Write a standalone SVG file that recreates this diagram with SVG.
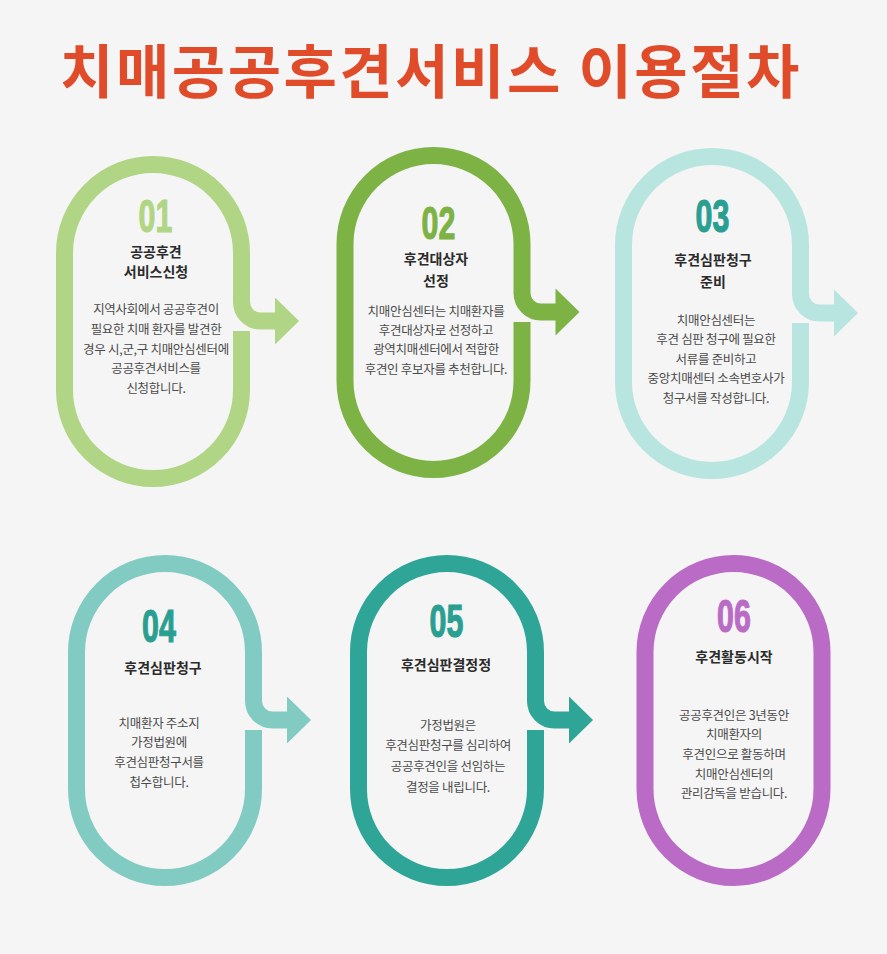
<svg xmlns="http://www.w3.org/2000/svg" width="887" height="954" viewBox="0 0 887 954">
<style>
.ring{fill:none;stroke-width:17;stroke-linecap:butt}
.title{font-family:"Noto Sans CJK KR","Noto Sans",sans-serif;font-weight:700;font-size:58px;letter-spacing:2.5px;fill:#e04c2a}
.num{font-family:"Liberation Sans",Arial,sans-serif;font-weight:700;font-size:46px;text-anchor:middle;stroke-width:1.2px}
.head{font-family:"Noto Sans CJK KR","Noto Sans",sans-serif;font-weight:700;font-size:14px;letter-spacing:0px;fill:#2b2b2b;text-anchor:middle}
.body{font-family:"Noto Sans CJK KR","Noto Sans",sans-serif;font-weight:400;font-size:12.5px;letter-spacing:-0.3px;fill:#4a4a4a;text-anchor:middle}
.c1{stroke:#b0d584}.f1{fill:#b0d584}
.c2{stroke:#7db244}.f2{fill:#7db244}
.c3{stroke:#b8e5df}.f3{fill:#b8e5df}
.c4{stroke:#82cbc3}.f4{fill:#82cbc3}
.c5{stroke:#2ea597}.f5{fill:#2ea597}
.c6{stroke:#ba6bc6}.f6{fill:#ba6bc6}
.ft{fill:#2a9f91;stroke:#2a9f91}
.n1{fill:#b0d584;stroke:#b0d584}
.n2{fill:#7db244;stroke:#7db244}
.n6{fill:#ba6bc6;stroke:#ba6bc6}
</style>
<rect x="0" y="0" width="887" height="954" fill="#f5f5f5"/>
<text class="title" x="431" y="93" text-anchor="middle">치매공공후견서비스 이용절차</text>

<g id="step1">
<path class="ring c1" d="M 241.5 331 L 241.5 390 A 88.5 88.5 0 0 1 64.5 390 L 64.5 253 A 88.5 88.5 0 0 1 241.5 253 L 241.5 302"/>
<text class="num n1" transform="translate(155.5,232) scale(0.66,1)">01</text>
<text class="head" x="156" y="256.5">공공후견</text>
<text class="head" x="156" y="276.5">서비스신청</text>
<text class="body" x="156" y="314.3">지역사회에서 공공후견이</text>
<text class="body" x="156" y="334">필요한 치매 환자를 발견한</text>
<text class="body" x="156" y="353.7">경우 시,군,구 치매안심센터에</text>
<text class="body" x="156" y="373.4">공공후견서비스를</text>
<text class="body" x="156" y="393.1">신청합니다.</text>
</g>

<g id="step2">
<path class="ring c2" d="M 522 322 L 522 381 A 88.5 88.5 0 0 1 345 381 L 345 244 A 88.5 88.5 0 0 1 522 244 L 522 293"/>
<text class="num n2" transform="translate(438.5,239) scale(0.66,1)">02</text>
<text class="head" x="436" y="264">후견대상자</text>
<text class="head" x="436" y="286">선정</text>
<text class="body" x="436" y="315.5">치매안심센터는 치매환자를</text>
<text class="body" x="436" y="334.5">후견대상자로 선정하고</text>
<text class="body" x="436" y="354">광역치매센터에서 적합한</text>
<text class="body" x="436" y="373.5">후견인 후보자를 추천합니다.</text>
</g>

<g id="step3">
<path class="ring c3" d="M 800.5 323 L 800.5 382 A 88.5 88.5 0 0 1 623.5 382 L 623.5 245 A 88.5 88.5 0 0 1 800.5 245 L 800.5 294"/>
<text class="num ft" transform="translate(712.5,232) scale(0.66,1)">03</text>
<text class="head" x="713" y="265">후견심판청구</text>
<text class="head" x="713" y="287">준비</text>
<text class="body" x="716" y="324.5">치매안심센터는</text>
<text class="body" x="716" y="344">후견 심판 청구에 필요한</text>
<text class="body" x="716" y="363.5">서류를 준비하고</text>
<text class="body" x="716" y="383">중앙치매센터 소속변호사가</text>
<text class="body" x="716" y="402.5">청구서를 작성합니다.</text>
</g>

<g id="step4">
<path class="ring c4" d="M 253.5 730 L 253.5 789 A 88.5 88.5 0 0 1 76.5 789 L 76.5 652 A 88.5 88.5 0 0 1 253.5 652 L 253.5 701"/>
<text class="num ft" transform="translate(159,642) scale(0.66,1)">04</text>
<text class="head" x="163" y="673">후견심판청구</text>
<text class="body" x="159" y="727.5">치매환자 주소지</text>
<text class="body" x="159" y="747">가정법원에</text>
<text class="body" x="159" y="767">후견심판청구서를</text>
<text class="body" x="159" y="787">첩수합니다.</text>
</g>

<g id="step5">
<path class="ring c5" d="M 535.5 730 L 535.5 789 A 88.5 88.5 0 0 1 358.5 789 L 358.5 652 A 88.5 88.5 0 0 1 535.5 652 L 535.5 701"/>
<text class="num ft" transform="translate(446.5,637) scale(0.66,1)">05</text>
<text class="head" x="446" y="670">후견심판결정정</text>
<text class="body" x="448" y="729.5">가정법원은</text>
<text class="body" x="448" y="750">후견심판청구를 심리하여</text>
<text class="body" x="448" y="771">공공후견인을 선임하는</text>
<text class="body" x="448" y="792">결정을 내립니다.</text>
</g>

<g id="step6">
<rect class="ring c6" x="645" y="563.5" width="177" height="314" rx="88.5" ry="88.5"/>
<text class="num n6" transform="translate(734,632) scale(0.66,1)">06</text>
<text class="head" x="734" y="662">후견활동시작</text>
<text class="body" x="734" y="719.5">공공후견인은 3년동안</text>
<text class="body" x="734" y="739">치매환자의</text>
<text class="body" x="734" y="758.5">후견인으로 활동하며</text>
<text class="body" x="734" y="778.5">치매안심센터의</text>
<text class="body" x="734" y="798">관리감독을 받습니다.</text>
</g>

<g id="connectors">
<path class="ring c1" d="M 241.5 301.5 L 241.5 302 A 19 19 0 0 0 260.5 321 L 276 321"/>
<polygon class="f1" points="275,297.5 299,321 275,344.5"/>
<path class="ring c2" d="M 522 292.5 L 522 293 A 19 19 0 0 0 541 312 L 557 312"/>
<polygon class="f2" points="555.5,288.5 579.5,312 555.5,335.5"/>
<path class="ring c3" d="M 800.5 293.5 L 800.5 294 A 19 19 0 0 0 819.5 313 L 835 313"/>
<polygon class="f3" points="834,289.5 858,313 834,336.5"/>
<path class="ring c4" d="M 253.5 700.5 L 253.5 701 A 19 19 0 0 0 272.5 720 L 288 720"/>
<polygon class="f4" points="287,696.5 311,720 287,743.5"/>
<path class="ring c5" d="M 535.5 700.5 L 535.5 701 A 19 19 0 0 0 554.5 720 L 570 720"/>
<polygon class="f5" points="569,696.5 593,720 569,743.5"/>
</g>
</svg>
